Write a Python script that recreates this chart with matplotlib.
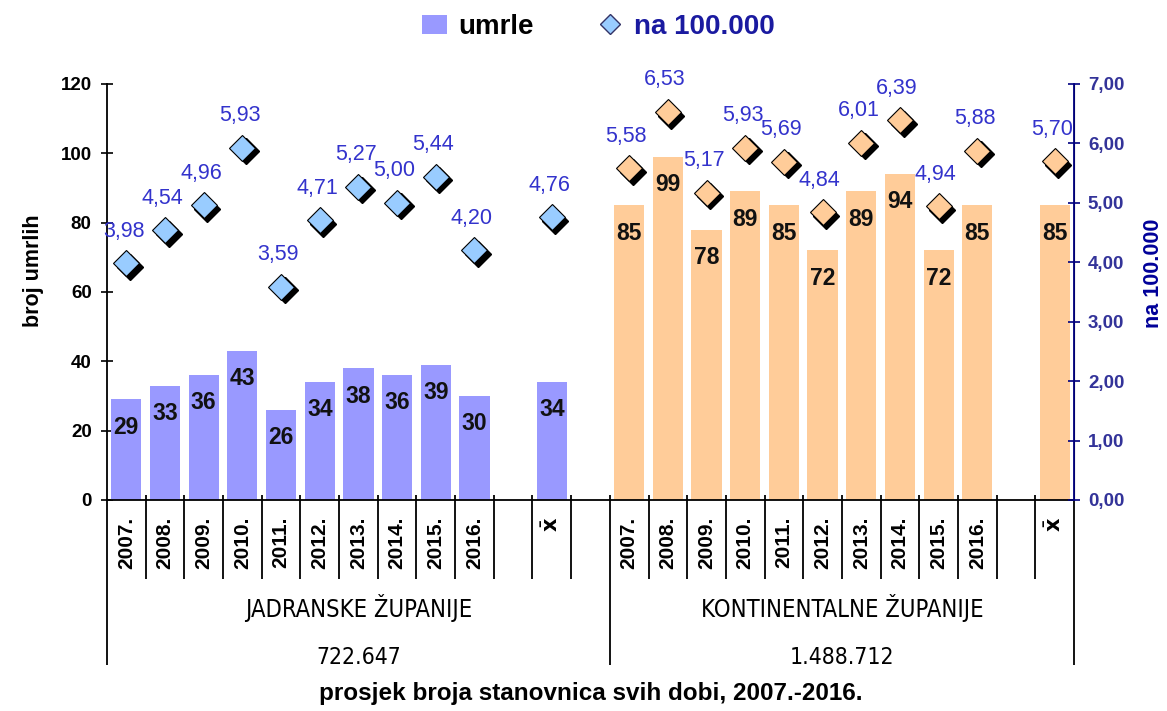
import matplotlib
matplotlib.use("Agg")
import matplotlib.pyplot as plt
from matplotlib.transforms import offset_copy
from matplotlib.patches import Patch
from matplotlib.lines import Line2D

plt.rcParams['font.family'] = ['Liberation Sans', 'DejaVu Sans']

# ---- data ----
years = ['2007.', '2008.', '2009.', '2010.', '2011.', '2012.', '2013.', '2014.', '2015.', '2016.']
mean_label = r'$\bar{\mathbf{x}}$'

jad_umrle = [29, 33, 36, 43, 26, 34, 38, 36, 39, 30]
jad_umrle_mean = 34
jad_rate = [3.98, 4.54, 4.96, 5.93, 3.59, 4.71, 5.27, 5.00, 5.44, 4.20]
jad_rate_mean = 4.76

kon_umrle = [85, 99, 78, 89, 85, 72, 89, 94, 72, 85]
kon_umrle_mean = 85
kon_rate = [5.58, 6.53, 5.17, 5.93, 5.69, 4.84, 6.01, 6.39, 4.94, 5.88]
kon_rate_mean = 5.70

group_names = ['JADRANSKE ŽUPANIJE', 'KONTINENTALNE ŽUPANIJE']
group_pop = ['722.647', '1.488.712']

left_ticks = [0, 20, 40, 60, 80, 100, 120]
right_ticks = [0, 1, 2, 3, 4, 5, 6, 7]

# ---- category layout: 10 years, blank, mean, blank, 10 years, blank, mean ----
labels = years + ['', mean_label, ''] + years + ['', mean_label]
n = len(labels)
jad_x = list(range(0, 10)) + [11]
kon_x = list(range(13, 23)) + [24]
jad_vals = jad_umrle + [jad_umrle_mean]
kon_vals = kon_umrle + [kon_umrle_mean]
jad_r = jad_rate + [jad_rate_mean]
kon_r = kon_rate + [kon_rate_mean]

BLUE_BAR = '#9999FF'
ORANGE = '#FFCC99'
LIGHT_BLUE = '#99CCFF'
LABEL_BLUE = '#3333CC'
DARK_BLUE = '#000080'
NARROW = dict(family=['DejaVu Sans'], fontstretch='condensed')

fig = plt.figure(figsize=(11.67, 7.11), dpi=100)
ax = fig.add_axes([0.0917, 0.2968, 0.8286, 0.5851])
ax2 = ax.twinx()

bw = 0.78
ax.bar(jad_x, jad_vals, width=bw, color=BLUE_BAR, zorder=2)
ax.bar(kon_x, kon_vals, width=bw, color=ORANGE, zorder=2)

for x, v in zip(jad_x + kon_x, jad_vals + kon_vals):
    ax.annotate(str(v), xy=(x, v), xytext=(0, -20), textcoords='offset points',
                ha='center', va='center', fontsize=16.5, fontweight='bold',
                color='#111111', zorder=5)

ax.set_xlim(-0.5, n - 0.5)
ax.set_ylim(0, 120)
ax.set_yticks(left_ticks)
ax.set_yticklabels([str(t) for t in left_ticks], fontsize=13.5, fontweight='bold')
ax.tick_params(axis='y', direction='inout', length=8, width=1.2, pad=7)
ax.set_ylabel('broj umrlih', fontsize=15.5, fontweight='bold')
ax.yaxis.set_label_coords(-0.065, 0.55)

ax.set_xticks(range(n))
ax.set_xticklabels(labels, rotation=90, fontsize=15, fontweight='bold')
ax.tick_params(axis='x', length=0, pad=12)

ax2.set_ylim(0, 7)
ax2.set_yticks(right_ticks)
ax2.set_yticklabels(['%d,00' % t for t in right_ticks], fontsize=13.5,
                    fontweight='bold', color='#333399')
ax2.tick_params(axis='y', direction='inout', length=8, width=1.2,
                color=DARK_BLUE, pad=6)
ax2.set_ylabel('na 100.000', fontsize=15.5, fontweight='bold', color='#000099')
ax2.yaxis.set_label_coords(1.071, 0.545)

for a in (ax, ax2):
    a.spines['top'].set_visible(False)
ax.spines['left'].set_linewidth(1.3)
ax.spines['bottom'].set_linewidth(1.3)
ax2.spines['left'].set_visible(False)
ax2.spines['bottom'].set_visible(False)
ax2.spines['right'].set_color(DARK_BLUE)
ax2.spines['right'].set_linewidth(1.3)

# separators below axis
trans = ax.get_xaxis_transform()
short = [b + 0.5 for b in range(n - 1) if b != 12]
ax.vlines(short, -0.19, 0.012, transform=trans, colors='black', lw=1.3, clip_on=False)
ax.vlines([-0.5, 12.5, n - 0.5], -0.397, 0.0, transform=trans, colors='black', lw=1.3, clip_on=False)
ax.vlines([12.5], 0, 0.012, transform=trans, colors='black', lw=1.3, clip_on=False)

# markers with shadow
shadow_tr = offset_copy(ax2.transData, fig=fig, x=2.6, y=-2.6, units='points')
for xs, rs, fc in ((jad_x, jad_r, LIGHT_BLUE), (kon_x, kon_r, ORANGE)):
    ax2.plot(xs, rs, 'D', ms=13.5, color='black', ls='none', transform=shadow_tr, zorder=3)
    ax2.plot(xs, rs, 'D', ms=13.5, mfc=fc, mec='black', mew=0.8, ls='none', zorder=4)
    for x, r in zip(xs, rs):
        ax2.annotate(('%.2f' % r).replace('.', ','), xy=(x, r), xytext=(-2, 23),
                     textcoords='offset points', ha='center', va='center',
                     fontsize=15.5, color=LABEL_BLUE, zorder=5)

# group labels
for i, (name, pop) in enumerate(zip(group_names, group_pop)):
    cx = 6.0 if i == 0 else 18.5
    ax.text(cx, -0.26, name, transform=trans, ha='center', va='center',
            fontsize=17, **NARROW)
    ax.text(cx, -0.378, pop, transform=trans, ha='center', va='center',
            fontsize=16.5, **NARROW)

fig.text(0.506, 0.025, 'prosjek broja stanovnica svih dobi, 2007.-2016.',
         ha='center', va='center', fontsize=17.5, fontweight='bold')

# legend
handles = [Patch(facecolor=BLUE_BAR, edgecolor='none'),
           Line2D([], [], marker='D', ls='none', ms=10, mfc=LIGHT_BLUE, mec='#333366', mew=1)]
leg = fig.legend(handles, ['umrle', 'na 100.000'], loc='center', ncol=2,
                 bbox_to_anchor=(0.513, 0.962), frameon=False,
                 prop={'size': 20, 'weight': 'bold'}, columnspacing=2.3,
                 handlelength=0.9, handletextpad=0.4)
leg.get_texts()[0].set_color('black')
leg.get_texts()[1].set_color('#1a1aa0')

fig.savefig('out.png', dpi=100, facecolor='white')
